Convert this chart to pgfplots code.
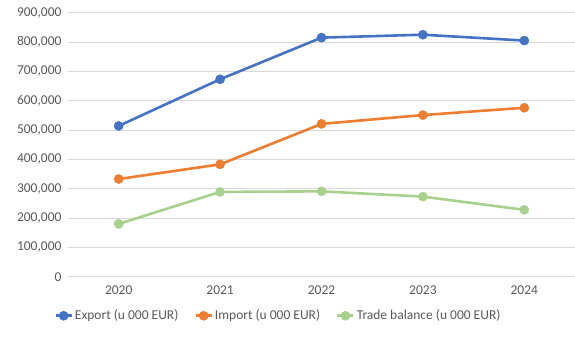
\documentclass[border=0pt]{standalone}
\usepackage{pgfplots}
\pgfplotsset{compat=1.18}
\usepackage{fontspec}
\setmainfont{Carlito}
\definecolor{cexp}{HTML}{4472C4}
\definecolor{cimp}{HTML}{ED7D31}
\definecolor{ctb}{HTML}{A9D18E}
\definecolor{cgrid}{HTML}{D9D9D9}
\definecolor{ctxt}{HTML}{595959}
\begin{document}
\begin{tikzpicture}
\useasboundingbox (-68pt,-65.3pt) rectangle (507pt,276.7pt);
\begin{axis}[
  scale only axis,
  width=507pt, height=264pt,
  xmin=-0.5, xmax=4.5, ymin=0, ymax=900000,
  xtick={0,1,2,3,4},
  xticklabels={2020,2021,2022,2023,2024},
  ytick={0,100000,200000,300000,400000,500000,600000,700000,800000,900000},
  scaled y ticks=false,
  yticklabel={\pgfmathprintnumber[fixed,precision=0,1000 sep={,},assume math mode=true]{\tick}},
  ymajorgrids, grid style={cgrid, line width=1pt},
  major tick length=0pt,
  axis line style={draw=none},
  ticklabel style={font=\fontsize{13.5}{16}\selectfont, text=ctxt},
  yticklabel style={xshift=-3pt},
  xticklabel style={yshift=-6pt},
  clip=false,
  legend columns=3,
  legend style={at={(0.415,-0.148)}, anchor=center, draw=none, fill=none,
    font=\fontsize{13.5}{16}\selectfont, text=ctxt,
    /tikz/every even column/.append style={column sep=14pt},
    inner sep=0pt},
  legend image code/.code={\draw[mark repeat=2,mark phase=2] plot coordinates {(0pt,0pt)(8pt,0pt)(16pt,0pt)};},
  every axis plot/.append style={line width=2.6pt, mark=*, mark size=4.6pt},
]
\addplot[cexp, mark options={fill=cexp, draw=cexp, line width=0.4pt, solid}] coordinates {(0,514000)(1,673000)(2,815000)(3,825000)(4,805000)};
\addlegendentry{Export (u 000 EUR)}
\addplot[cimp, mark options={fill=cimp, draw=cimp, line width=0.4pt, solid}] coordinates {(0,333000)(1,383000)(2,521000)(3,551000)(4,576000)};
\addlegendentry{Import (u 000 EUR)}
\addplot[ctb, mark options={fill=ctb, draw=ctb, line width=0.4pt, solid}] coordinates {(0,180000)(1,289000)(2,291000)(3,273000)(4,228000)};
\addlegendentry{Trade balance (u 000 EUR)}
\end{axis}
\end{tikzpicture}
\end{document}
